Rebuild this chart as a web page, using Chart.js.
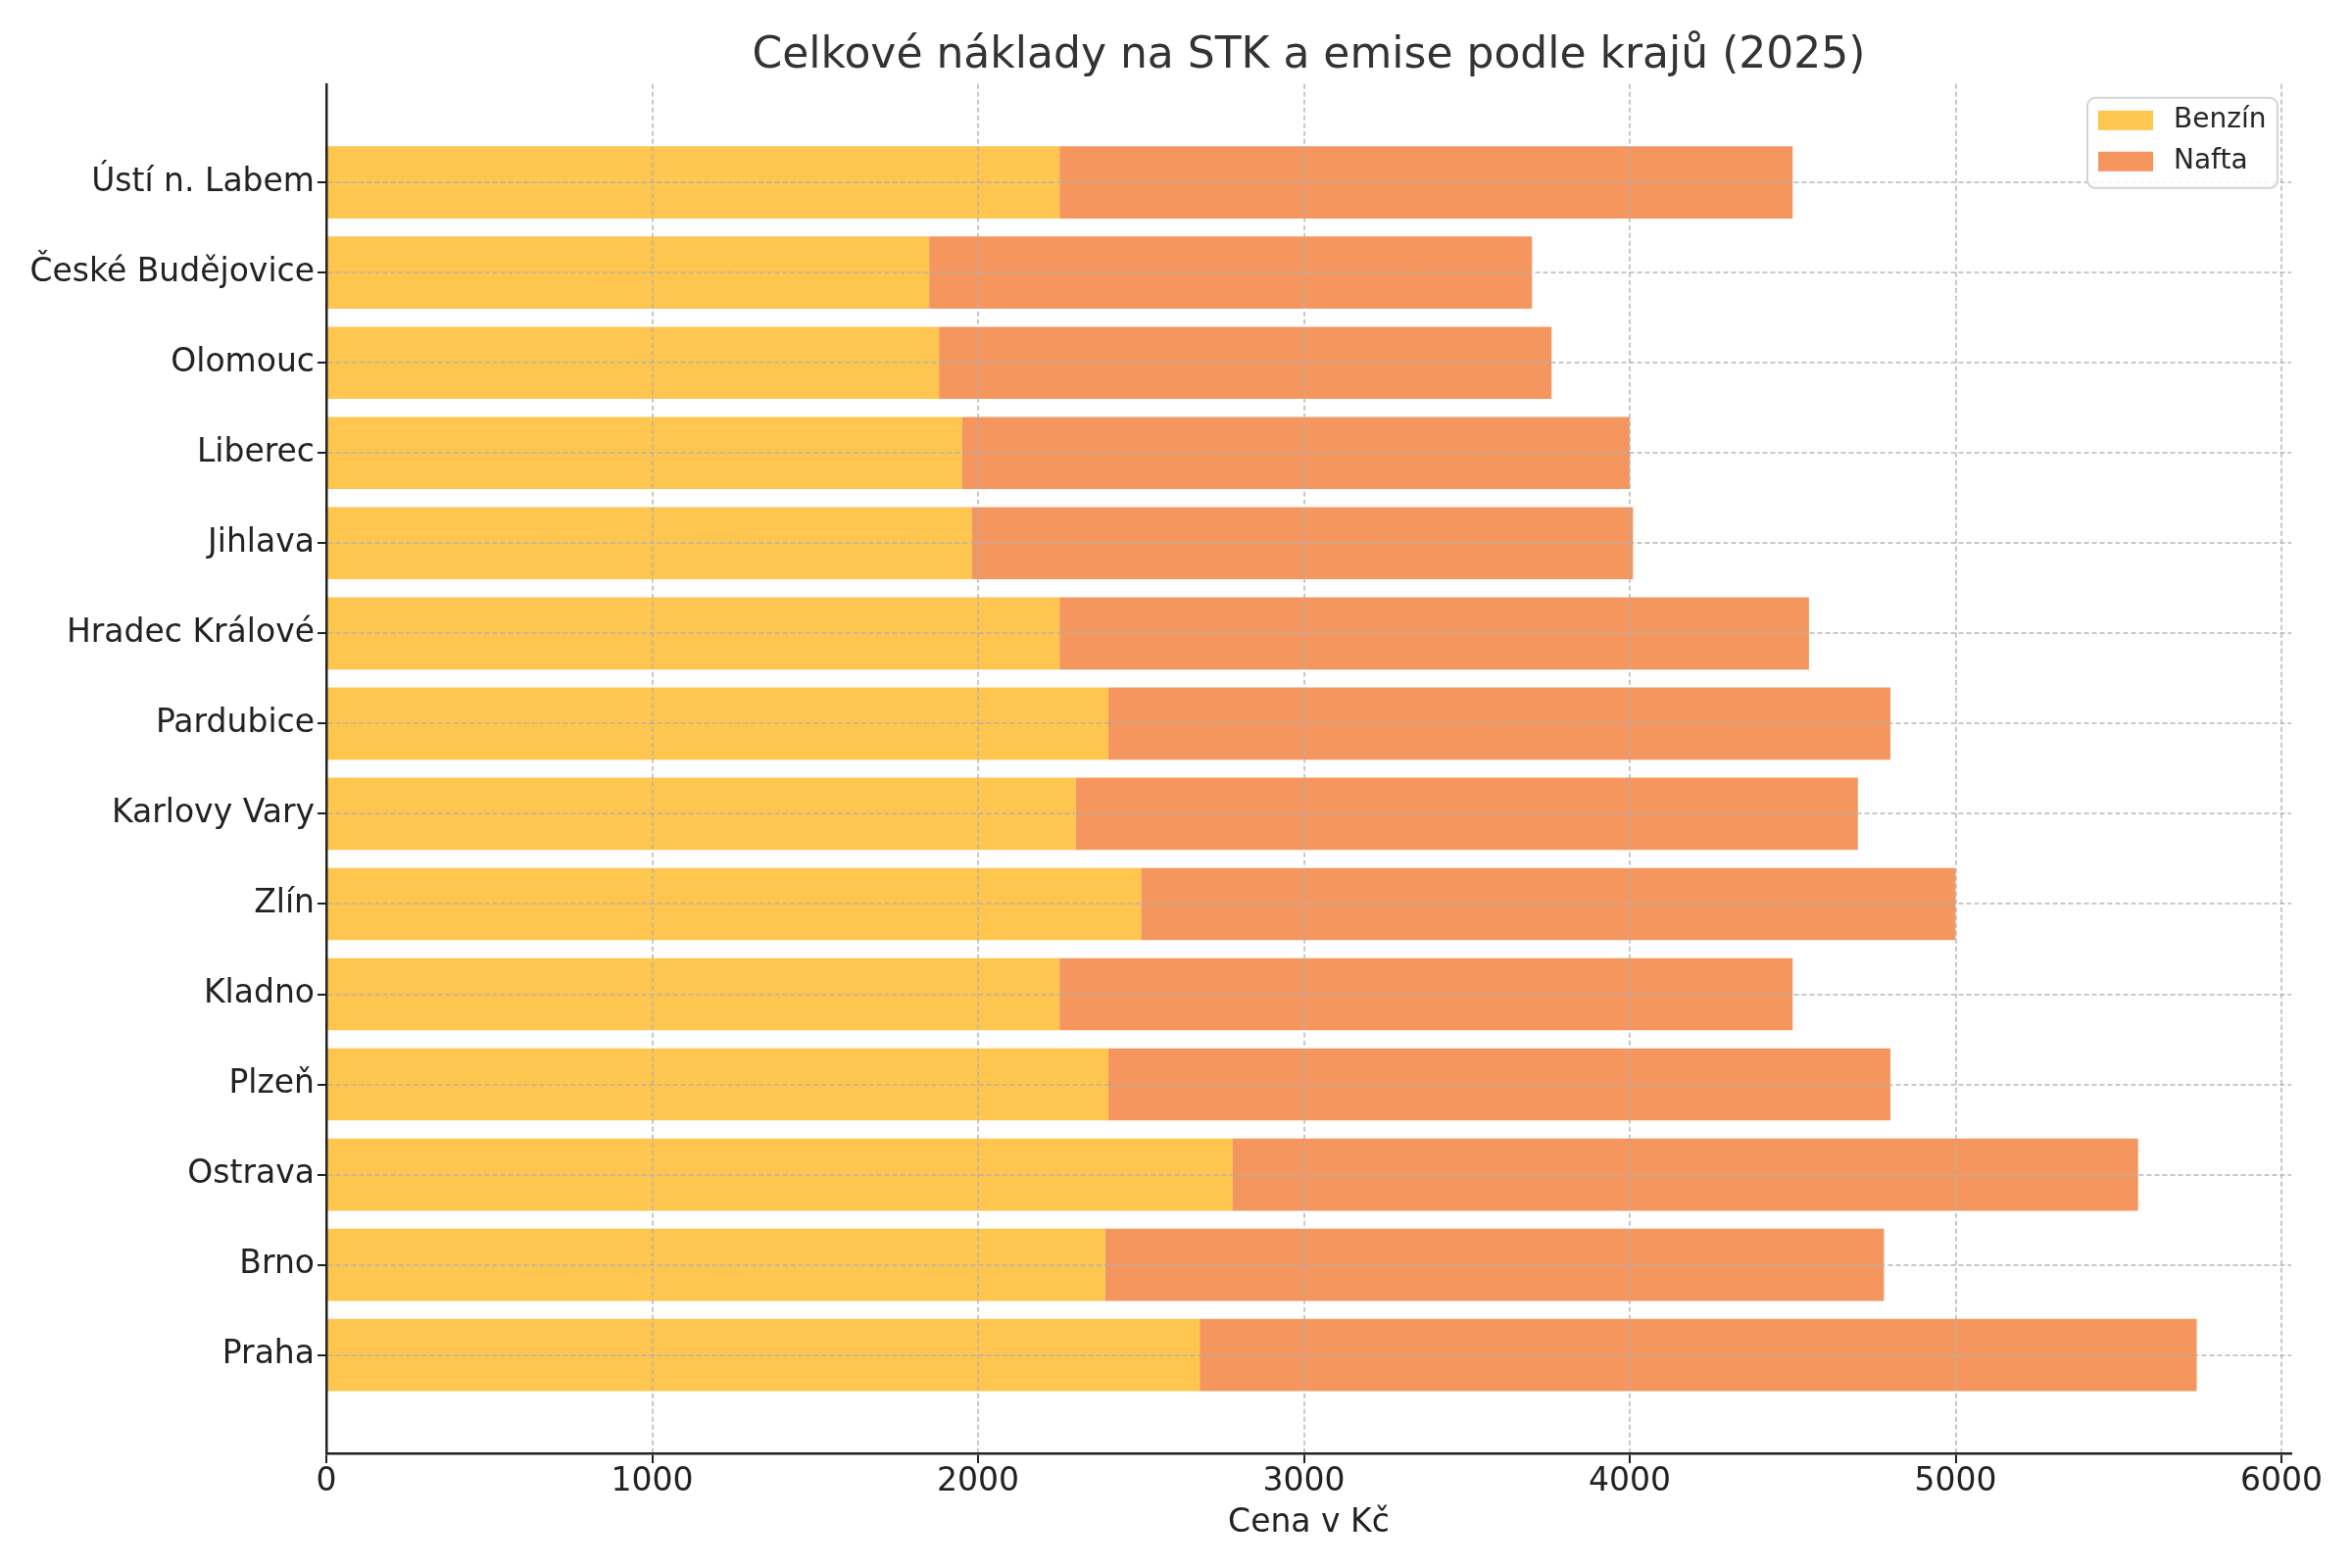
<!DOCTYPE html>
<html lang="cs">
<head>
<meta charset="utf-8">
<title>Celkové náklady na STK a emise podle krajů (2025)</title>
<script src="https://cdn.jsdelivr.net/npm/chart.js@4.4.1/dist/chart.umd.min.js"></script>
<style>
  html, body { margin: 0; padding: 0; background: #fff; }
  #wrap { width: 2400px; height: 1600px; }
</style>
</head>
<body>
<div id="wrap"><canvas id="chart" width="2400" height="1600"></canvas></div>
<script>
// Regions, bottom to top (as in the source barh plot)
const regions = ['Praha', 'Brno', 'Ostrava', 'Plzeň', 'Kladno', 'Zlín', 'Karlovy Vary',
    'Pardubice', 'Hradec Králové', 'Jihlava', 'Liberec', 'Olomouc', 'České Budějovice', 'Ústí n. Labem'];

// Price in Kč
const benzin = [2680, 2390, 2780, 2400, 2250, 2500, 2300, 2400, 2250, 1980, 1950, 1880, 1850, 2250];
const nafta  = [3060, 2390, 2780, 2400, 2250, 2500, 2400, 2400, 2300, 2030, 2050, 1880, 1850, 2250];

const xTicks = [0, 1000, 2000, 3000, 4000, 5000, 6000];

// Colors
const COLORS = {
    benzin: '#FEC54F',
    nafta: '#F5965F',
    text: '#222222',
    grid: 'rgba(176,176,176,0.7)',
    axis: '#222222'
};

Chart.defaults.font.family = '"DejaVu Sans", sans-serif';
Chart.defaults.color = COLORS.text;

/**
 * Matplotlib-like legend box in the upper right corner of the plot area
 */
const legendBox = {
    id: 'legendBox',
    afterDraw(chart) {
        const { ctx, chartArea } = chart;
        const w = 194, h = 92;
        const x = chartArea.right - 14 - w;
        const y = chartArea.top + 14;
        ctx.save();
        ctx.beginPath();
        ctx.roundRect(x, y, w, h, 8);
        ctx.fillStyle = 'rgba(255,255,255,0.85)';
        ctx.fill();
        ctx.strokeStyle = '#d4d4d4';
        ctx.lineWidth = 2;
        ctx.stroke();
        ctx.font = '28px "DejaVu Sans"';
        ctx.textBaseline = 'middle';
        chart.data.datasets.forEach((ds, i) => {
            const cy = y + 23 + i * 42;
            ctx.fillStyle = ds.backgroundColor;
            ctx.fillRect(x + 11, cy - 10, 56, 20);
            ctx.fillStyle = '#262626';
            ctx.fillText(ds.label, x + 88, cy);
        });
        ctx.restore();
    }
};

const toPoints = (arr) => arr.map((v, i) => ({ x: v, y: i }));

new Chart(document.getElementById('chart'), {
    type: 'bar',
    data: {
        datasets: [
            { label: 'Benzín', data: toPoints(benzin), backgroundColor: COLORS.benzin },
            { label: 'Nafta', data: toPoints(nafta), backgroundColor: COLORS.nafta }
        ]
    },
    options: {
        indexAxis: 'y',
        responsive: false,
        devicePixelRatio: 1,
        animation: false,
        categoryPercentage: 1,
        barPercentage: 0.8,
        layout: { padding: { left: 0, right: 62, top: 0, bottom: 0 } },
        plugins: {
            legend: { display: false },
            tooltip: { enabled: false },
            title: {
                display: true,
                fullSize: false,
                text: 'Celkové náklady na STK a emise podle krajů (2025)',
                color: '#333333',
                font: { size: 44, weight: 'normal' },
                padding: { top: 31, bottom: 2 }
            }
        },
        scales: {
            x: {
                type: 'linear',
                stacked: true,
                min: 0,
                max: 6030,
                afterBuildTicks: (scale) => { scale.ticks = xTicks.map(v => ({ value: v })); },
                afterFit: (scale) => { scale.height = 117; },
                ticks: {
                    font: { size: 33 },
                    color: COLORS.text,
                    padding: 0,
                    maxRotation: 0,
                    callback: (v) => String(v)
                },
                grid: {
                    z: 1,
                    color: COLORS.grid,
                    lineWidth: 2,
                    tickColor: COLORS.axis,
                    tickLength: 10,
                    tickWidth: 2,
                    tickBorderDash: []
                },
                border: { display: true, color: COLORS.axis, width: 2.5, dash: [5, 3], z: 2 },
                title: {
                    display: true,
                    text: 'Cena v Kč',
                    color: COLORS.text,
                    font: { size: 33 },
                    padding: { top: 0, bottom: 26 }
                }
            },
            y: {
                type: 'linear',
                stacked: true,
                offset: false,
                min: -1.09,
                max: 14.09,
                afterBuildTicks: (scale) => { scale.ticks = regions.map((_, i) => ({ value: i })); },
                afterFit: (scale) => { scale.width = 333; },
                ticks: {
                    font: { size: 33 },
                    color: COLORS.text,
                    padding: 3,
                    callback: (v) => regions[v]
                },
                grid: {
                    z: 1,
                    offset: false,
                    color: COLORS.grid,
                    lineWidth: 2,
                    tickColor: COLORS.axis,
                    tickLength: 9,
                    tickWidth: 2,
                    tickBorderDash: []
                },
                border: { display: true, color: COLORS.axis, width: 2.5, dash: [5, 3], z: 2 }
            }
        }
    },
    plugins: [legendBox]
});
</script>
</body>
</html>
